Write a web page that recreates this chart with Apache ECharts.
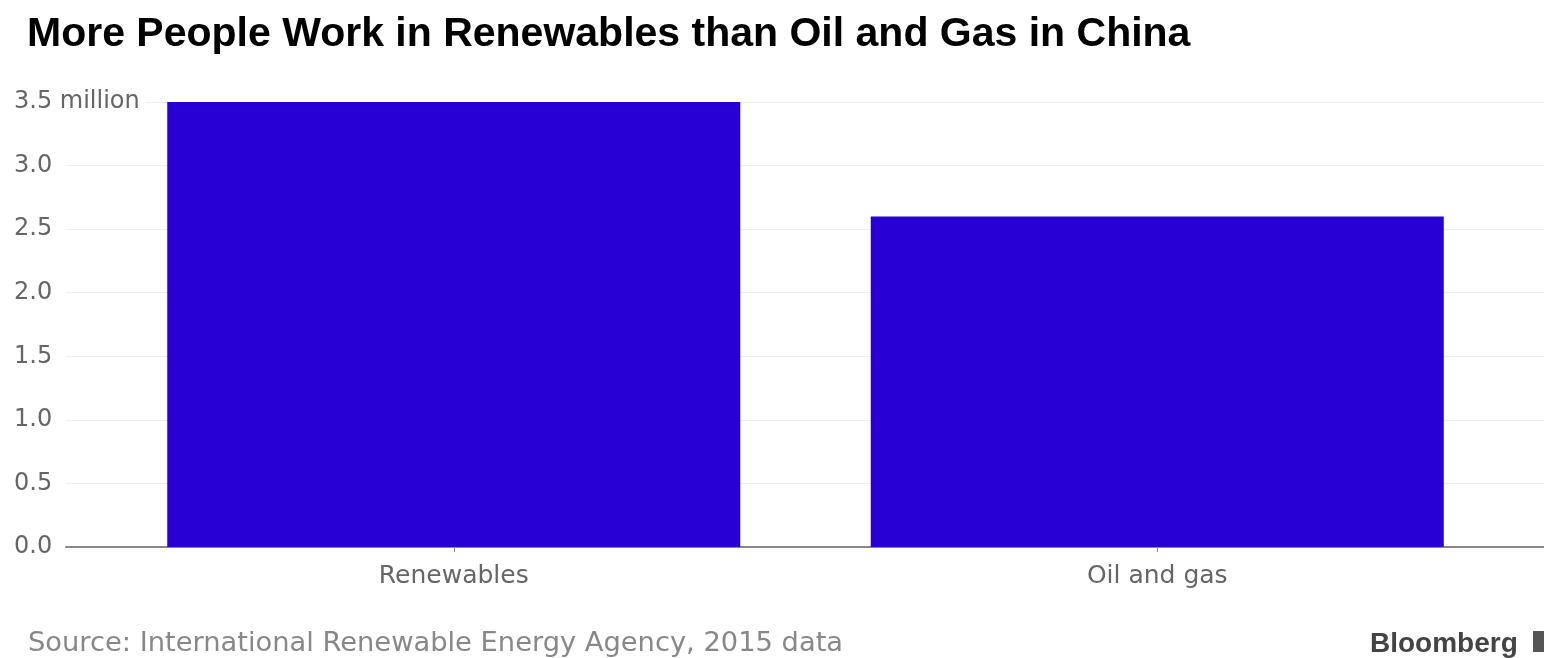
<!DOCTYPE html>
<html>
<head>
<meta charset="utf-8">
<script src="https://cdn.jsdelivr.net/npm/echarts@6/dist/echarts.min.js"></script>
<style>
html,body{margin:0;padding:0;background:#fff;}
#chart{width:1544px;height:658px;}
</style>
</head>
<body>
<div id="chart"></div>
<script>
var categories = ['Renewables', 'Oil and gas'];
var jobsMillions = [3.5, 2.6];
var titleText = 'More People Work in Renewables than Oil and Gas in China';
var sourceText = 'Source: International Renewable Energy Agency, 2015 data';

var chart = echarts.init(document.getElementById('chart'));
var yMin = 0, yMax = 3.5, yStep = 0.5;
chart.setOption({
  animation: false,
  backgroundColor: '#fff',
  title: {
    text: titleText,
    left: 22, top: 9,
    textStyle: { fontFamily: 'Liberation Sans', fontWeight: 'bold', fontSize: 41, color: '#000' }
  },
  grid: [
    { left: 66, right: 0, top: 102, bottom: 111 },
    { left: 102, right: 35, top: 102, bottom: 111 }
  ],
  xAxis: [
    { gridIndex: 0, type: 'category', data: [''], axisLabel: { show: false }, axisTick: { show: false },
      axisLine: { lineStyle: { color: '#888', width: 2 } } },
    { gridIndex: 1, type: 'category', data: categories,
      axisLine: { show: false },
      axisTick: { show: true, alignWithLabel: true, length: 5, lineStyle: { color: '#888', width: 1 } },
      axisLabel: { color: '#666', fontSize: 25, fontFamily: 'DejaVu Sans', margin: 17 } }
  ],
  yAxis: [
    { gridIndex: 0, type: 'value', min: yMin, max: yMax, interval: yStep,
      axisLine: { show: false }, axisTick: { show: false },
      splitLine: { lineStyle: { color: '#eef0f0', width: 1 } },
      axisLabel: {
        align: 'left', margin: 52, color: '#666', fontSize: 24, fontFamily: 'DejaVu Sans',
        formatter: function (v) { return v === yMax ? '{m|' + v.toFixed(1) + ' million}' : v.toFixed(1); },
        rich: { m: { backgroundColor: '#fff', color: '#666', fontSize: 24, fontFamily: 'DejaVu Sans', padding: [0, 6, 0, 0] } }
      } },
    { gridIndex: 1, type: 'value', min: yMin, max: yMax, interval: yStep, show: false, splitLine: { show: false } }
  ],
  series: [{
    type: 'bar', xAxisIndex: 1, yAxisIndex: 1,
    data: jobsMillions, barWidth: 573,
    itemStyle: { color: '#2800d6' }
  }],
  graphic: [
    { type: 'text', left: 28, top: 630,
      style: { text: sourceText, fill: '#888', font: '27.3px "DejaVu Sans"' } },
    { type: 'text', left: 1370, top: 630,
      style: { text: 'Bloomberg', fill: '#444', font: 'bold 28px "Liberation Sans"' } },
    { type: 'rect', shape: { x: 1533, y: 631, width: 11, height: 21 }, style: { fill: '#555' } }
  ]
});
</script>
</body>
</html>
